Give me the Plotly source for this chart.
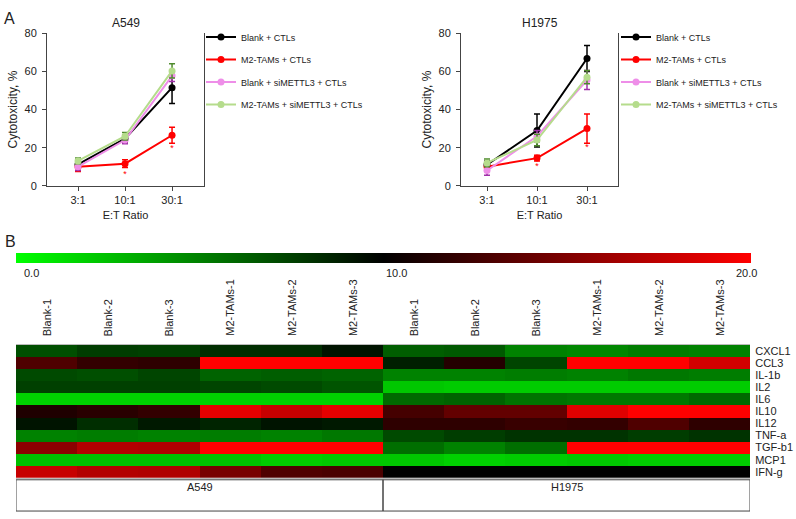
import plotly.graph_objects as go

W, H = 796, 519
FONT = "Liberation Sans, Arial, sans-serif"

# ---------------- Panel A data ----------------
ratios = ['3:1', '10:1', '30:1']
series_names = ['Blank + CTLs', 'M2-TAMs + CTLs', 'Blank + siMETTL3 + CTLs', 'M2-TAMs + siMETTL3 + CTLs']
series_colors = ['#000000', '#ff0000', '#ee8ee8', '#b5dc8c']
errbar_colors = ['#000000', '#ff0000', '#a030a8', '#4e8a2c']

a549_blank = [11.2, 24.7, 51.5]
a549_blank_err = [2.0, 2.0, 8.3]
a549_m2 = [10.0, 11.6, 26.5]
a549_m2_err = [2.5, 2.0, 4.2]
a549_blank_si = [10.0, 24.0, 57.7]
a549_blank_si_err = [2.0, 2.0, 3.0]
a549_m2_si = [13.0, 26.0, 60.3]
a549_m2_si_err = [1.5, 2.0, 3.8]

h1975_blank = [11.0, 29.0, 66.8]
h1975_blank_err = [2.0, 8.6, 6.8]
h1975_m2 = [10.0, 14.5, 30.0]
h1975_m2_err = [1.5, 1.5, 7.7]
h1975_blank_si = [8.0, 26.0, 55.5]
h1975_blank_si_err = [2.5, 3.0, 5.0]
h1975_m2_si = [12.0, 24.0, 57.0]
h1975_m2_si_err = [2.0, 3.0, 3.5]

sig_ratios = ['10:1', '30:1']
a549_sig_y = [6.0, 19.5]
h1975_sig_y = [10.0, 19.7]

# ---------------- Panel B data ----------------
sample_labels = ['Blank-1', 'Blank-2', 'Blank-3', 'M2-TAMs-1', 'M2-TAMs-2', 'M2-TAMs-3',
                 'Blank-1', 'Blank-2', 'Blank-3', 'M2-TAMs-1', 'M2-TAMs-2', 'M2-TAMs-3']
cell_lines = ['A549', 'H1975']
cytokines = ['CXCL1', 'CCL3', 'IL-1b', 'IL2', 'IL6', 'IL10', 'IL12', 'TNF-a', 'TGF-b1', 'MCP1', 'IFN-g']

row_CXCL1 = [6.9, 7.6, 7.5, 8.2, 8.2, 9.2, 6.3, 6.5, 4.9, 4.7, 5.1, 4.9]
row_CCL3 = [13.1, 12.0, 11.8, 20.0, 20.0, 20.0, 8.8, 11.4, 7.3, 20.0, 20.0, 18.2]
row_IL1b = [7.1, 6.9, 7.3, 6.1, 6.3, 6.1, 4.9, 4.9, 5.1, 4.9, 5.3, 5.1]
row_IL2 = [7.5, 7.5, 7.5, 7.3, 7.1, 6.7, 2.2, 2.0, 2.0, 2.0, 2.0, 2.0]
row_IL6 = [1.8, 1.8, 1.8, 1.8, 1.8, 1.8, 5.9, 6.1, 5.5, 5.3, 5.3, 5.9]
row_IL10 = [11.2, 11.6, 12.0, 19.0, 17.8, 19.0, 12.7, 13.9, 13.9, 18.8, 20.0, 20.0]
row_IL12 = [9.2, 8.2, 9.0, 8.6, 9.2, 9.0, 11.8, 11.8, 12.2, 12.0, 13.1, 11.8]
row_TNFa = [4.9, 5.1, 4.9, 5.1, 4.9, 5.3, 7.1, 7.6, 8.0, 8.0, 7.6, 8.0]
row_TGFb1 = [15.5, 17.0, 16.9, 20.0, 20.0, 20.0, 5.7, 4.9, 5.7, 20.0, 20.0, 20.0]
row_MCP1 = [2.5, 2.5, 2.5, 2.4, 2.0, 2.2, 2.2, 1.8, 2.0, 2.2, 2.0, 2.0]
row_IFNg = [17.8, 17.0, 16.9, 14.7, 13.1, 12.9, 10.0, 10.0, 10.0, 10.0, 10.0, 10.0]

heat_values = [row_CXCL1, row_CCL3, row_IL1b, row_IL2, row_IL6, row_IL10,
               row_IL12, row_TNFa, row_TGFb1, row_MCP1, row_IFNg]
color_ticks = [0, 10, 20]
color_tick_text = ['0.0', '10.0', '20.0']

# ---------------- Figure ----------------
fig = go.Figure()

def px_x(p):
    return p / W

def px_y(p):
    return 1 - p / H

panels = [
    ('A549', 'x', 'y', 'legend',
     [a549_blank, a549_m2, a549_blank_si, a549_m2_si],
     [a549_blank_err, a549_m2_err, a549_blank_si_err, a549_m2_si_err], a549_sig_y),
    ('H1975', 'x2', 'y2', 'legend2',
     [h1975_blank, h1975_m2, h1975_blank_si, h1975_m2_si],
     [h1975_blank_err, h1975_m2_err, h1975_blank_si_err, h1975_m2_si_err], h1975_sig_y),
]

for title, xa, ya, lg, vals, errs, sig in panels:
    for i, name in enumerate(series_names):
        fig.add_trace(go.Scatter(
            x=ratios, y=vals[i], name=name, mode='lines+markers',
            xaxis=xa, yaxis=ya, legend=lg, legendgroup=f'{lg}-{i}',
            line=dict(color=series_colors[i], width=2),
            marker=dict(color=series_colors[i], size=7),
            error_y=dict(type='data', array=errs[i], visible=True,
                         color=errbar_colors[i], thickness=1.5, width=3),
        ))
    fig.add_trace(go.Scatter(
        x=sig_ratios, y=sig, mode='text', text=['*'] * len(sig),
        textfont=dict(color='#ff0000', size=9, family=FONT),
        xaxis=xa, yaxis=ya, showlegend=False, hoverinfo='skip'))

fig.add_trace(go.Heatmap(
    z=heat_values, x=list(range(len(sample_labels))), y=list(range(len(cytokines))),
    xaxis='x3', yaxis='y3', zmin=0, zmax=20,
    colorscale=[[0, '#00ff00'], [0.5, '#000000'], [1, '#ff0000']],
    colorbar=dict(orientation='h', x=px_x(16), xanchor='left', y=px_y(253), yanchor='top',
                  len=735, lenmode='pixels', thickness=10, outlinewidth=0,
                  xpad=0, ypad=0, tickvals=color_ticks, showticklabels=False, ticks=''),
))

axis_common = dict(showline=True, linecolor='#444', linewidth=1, ticks='outside',
                   ticklen=4, tickcolor='#444', showgrid=False, zeroline=False,
                   tickfont=dict(size=11, color='#222', family=FONT))

fig.update_layout(
    width=W, height=H, margin=dict(l=0, r=0, t=0, b=0),
    paper_bgcolor='white', plot_bgcolor='white',
    font=dict(family=FONT, color='#222'),
    xaxis=dict(domain=[px_x(47), px_x(204)], range=[-0.66, 2.68], anchor='y',
               title=dict(text='E:T Ratio', font=dict(size=11), standoff=6), **axis_common),
    yaxis=dict(domain=[px_y(184), px_y(28)], range=[0, 80], anchor='x', mirror=True,
               tickvals=[0, 20, 40, 60, 80], ticklabelstandoff=3,
               title=dict(text='Cytotoxicity, %', font=dict(size=12), standoff=4), **axis_common),
    xaxis2=dict(domain=[px_x(461), px_x(618)], range=[-0.52, 2.62], anchor='y2',
                title=dict(text='E:T Ratio', font=dict(size=11), standoff=6), **axis_common),
    yaxis2=dict(domain=[px_y(184), px_y(28)], range=[0, 80], anchor='x2', mirror=True,
                tickvals=[0, 20, 40, 60, 80], ticklabelstandoff=3,
                title=dict(text='Cytotoxicity, %', font=dict(size=12), standoff=4), **axis_common),
    xaxis3=dict(domain=[px_x(16), px_x(750)], anchor='y3', side='top',
                range=[-0.5, len(sample_labels) - 0.5],
                showticklabels=False, ticks='',
                showline=True, mirror=True, linecolor='#bbbbbb', linewidth=1,
                showgrid=False, zeroline=False),
    yaxis3=dict(domain=[px_y(483), px_y(347)], anchor='x3', side='right',
                range=[len(cytokines) - 0.5, -0.5],
                tickmode='array', tickvals=list(range(len(cytokines))), ticktext=cytokines,
                ticks='outside', ticklen=2, tickcolor='white', showline=False,
                tickfont=dict(size=11, color='#222', family=FONT), showgrid=False, zeroline=False),
    legend=dict(x=px_x(201), y=px_y(17), xanchor='left', yanchor='top',
                font=dict(size=9, color='#222', family=FONT), tracegroupgap=3.5,
                itemwidth=30, bgcolor='rgba(0,0,0,0)'),
    legend2=dict(x=px_x(616), y=px_y(17), xanchor='left', yanchor='top',
                 font=dict(size=9, color='#222', family=FONT), tracegroupgap=3.5,
                 itemwidth=30, bgcolor='rgba(0,0,0,0)'),
)

annotations = [
    dict(text='A549', x=(px_x(47) + px_x(204)) / 2, y=px_y(17), font=dict(size=12)),
    dict(text='H1975', x=(px_x(461) + px_x(618)) / 2, y=px_y(17), font=dict(size=12)),
    dict(text='A', x=px_x(9), y=px_y(13), font=dict(size=16)),
    dict(text='B', x=px_x(10), y=px_y(241), font=dict(size=16)),
    dict(text=color_tick_text[0], x=px_x(31), y=px_y(273), font=dict(size=11)),
    dict(text=color_tick_text[1], x=px_x(396), y=px_y(273), font=dict(size=11)),
    dict(text=color_tick_text[2], x=px_x(746), y=px_y(273), font=dict(size=11)),
]
for a in annotations:
    a.update(xref='paper', yref='paper', showarrow=False, xanchor='center', yanchor='middle')
    a['font'].update(family=FONT, color='#222')
    fig.add_annotation(**a)

# rotated sample (column) labels above the heatmap
for i, lab in enumerate(sample_labels):
    fig.add_annotation(text=lab, xref='x3', yref='paper', x=i, y=px_y(339),
                       textangle=-90, xanchor='center', yanchor='bottom', showarrow=False,
                       borderpad=0, font=dict(size=11, family=FONT, color='#222'))

group_size = len(sample_labels) // len(cell_lines)
for g, line_name in enumerate(cell_lines):
    x0 = g * group_size - 0.5
    x1 = x0 + group_size
    fig.add_shape(type='rect', xref='x3', yref='paper', x0=x0, x1=x1,
                  y0=px_y(517), y1=px_y(485), line=dict(color='#444', width=1))
    fig.add_annotation(text=line_name, xref='x3', yref='paper', x=(x0 + x1) / 2,
                       y=px_y(501), showarrow=False,
                       font=dict(size=11, family=FONT, color='#222'))

fig.write_html("out.html", config={'displayModeBar': False},
               post_script="document.body.style.margin='0px';")
